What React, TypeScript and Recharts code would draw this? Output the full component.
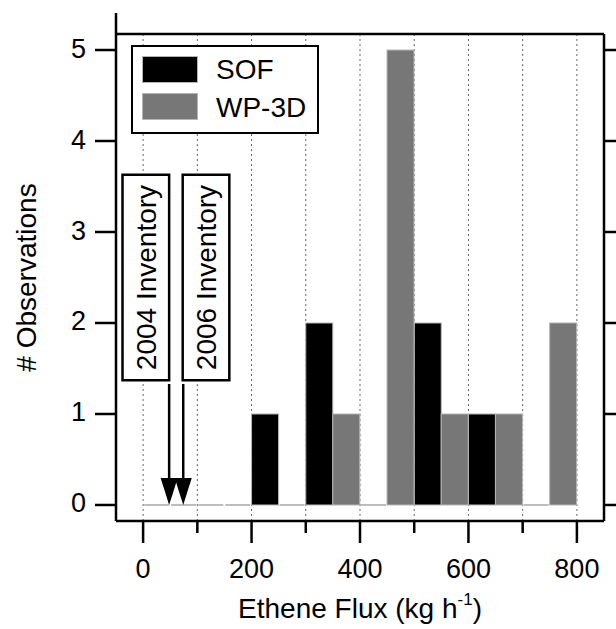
import React from 'react';
import {
  ComposedChart,
  Bar,
  XAxis,
  YAxis,
  CartesianGrid,
  ReferenceArea,
  ReferenceLine,
  ReferenceDot,
  Legend,
} from 'recharts';

// ---- data ----
const binStarts = [0, 100, 200, 300, 400, 500, 600, 700];
const sofCounts = [0, 0, 1, 2, 0, 2, 1, 0];
const wpCounts = [0, 0, 0, 1, 5, 1, 1, 2];
const seriesNames = ['SOF', 'WP-3D'];
const xTicks = [0, 100, 200, 300, 400, 500, 600, 700, 800];
const xLabelTicks = [0, 200, 400, 600, 800];
const yTicks = [0, 1, 2, 3, 4, 5];
const inventoryLabels = ['2004 Inventory', '2006 Inventory'];
const inventoryFlux = [48, 74];

const data = binStarts.map((s, i) => ({ bin: s + 50, sof: sofCounts[i], wp: wpCounts[i] }));

// ---- layout / style ----
const FONT = '"Liberation Sans", Arial, Helvetica, sans-serif';
const FS = 28;
const TFS = 27;
const INV_BOXES = [
  { x1: -38, x2: 48 },
  { x1: 73, x2: 159 },
];
const INV_Y = [1.37, 3.63];
const ARROW_TOP = 1.33;
const ARROW_SHAFT_END = 0.25;

const HistBar = (props: any) => {
  const { x, y, width, height, fill } = props;
  if (!height || Math.abs(height) < 0.5) {
    return <line x1={x + 1} x2={x + width - 1} y1={y} y2={y} stroke="#a8a8a8" strokeWidth={1.5} />;
  }
  return <rect x={x} y={y} width={width} height={height} fill={fill} stroke="#b5b5b5" strokeWidth={1} />;
};

const BottomTick = (props: any) => {
  const { x, y, payload } = props;
  const major = xLabelTicks.includes(payload.value);
  return (
    <g>
      <line x1={x} x2={x} y1={y} y2={y + (major ? 22 : 12)} stroke="#000" strokeWidth={2.5} />
      {major && (
        <text x={x} y={y + 57} textAnchor="middle" fontFamily={FONT} fontSize={TFS} fill="#000">
          {payload.value}
        </text>
      )}
    </g>
  );
};

const TopTick = (props: any) => {
  const { x, y, payload } = props;
  const major = xLabelTicks.includes(payload.value);
  return <line x1={x} x2={x} y1={y} y2={y - (major ? 21 : 12)} stroke="#000" strokeWidth={2.5} />;
};

const LeftTick = (props: any) => {
  const { x, y, payload } = props;
  return (
    <g>
      <line x1={x} x2={x - 21} y1={y} y2={y} stroke="#000" strokeWidth={2.5} />
      <text x={x - 30} y={y + 7.5} textAnchor="end" fontFamily={FONT} fontSize={TFS} fill="#000">
        {payload.value}
      </text>
    </g>
  );
};

const RightTick = (props: any) => {
  const { x, y } = props;
  return <line x1={x} x2={x + 21} y1={y} y2={y} stroke="#000" strokeWidth={2.5} />;
};

const XTitle = (props: any) => {
  const vb = props.viewBox;
  const cx = vb.x + vb.width / 2;
  const by = vb.y + 97;
  return (
    <text x={cx} y={by} textAnchor="middle" fontFamily={FONT} fontSize={FS} fill="#000">
      <tspan>Ethene Flux (kg h</tspan>
      <tspan dy={-13} fontSize={17}>-1</tspan>
      <tspan dy={13}>)</tspan>
    </text>
  );
};

const YTitle = (props: any) => {
  const vb = props.viewBox;
  const bx = vb.x + vb.width - 80;
  const cy = vb.y + vb.height / 2;
  return (
    <text
      x={bx}
      y={cy}
      transform={`rotate(-90 ${bx} ${cy})`}
      textAnchor="middle"
      fontFamily={FONT}
      fontSize={FS}
      fill="#000"
    >
      # Observations
    </text>
  );
};

const LegendBox = (props: any) => {
  const payload = props.payload || [];
  return (
    <div
      style={{
        position: 'relative',
        width: 188,
        height: 89,
        boxSizing: 'border-box',
        border: '2.5px solid #000',
        background: '#fff',
        fontFamily: FONT,
        fontSize: FS,
        lineHeight: '26px',
      }}
    >
      {payload.map((p: any, i: number) => (
        <React.Fragment key={p.value}>
          <div
            style={{
              position: 'absolute',
              left: 9,
              top: i === 0 ? 9 : 46,
              width: 56,
              height: 27,
              background: p.color,
              boxSizing: 'border-box',
              border: '1px solid #b5b5b5',
            }}
          />
          <span style={{ position: 'absolute', left: 83, top: i === 0 ? 10 : 48, color: '#000', whiteSpace: 'nowrap' }}>
            {p.value}
          </span>
        </React.Fragment>
      ))}
    </div>
  );
};

const ArrowHead = (props: any) => {
  const { cx, cy } = props;
  return <polygon points={`${cx - 8.5},${cy - 27} ${cx + 8.5},${cy - 27} ${cx},${cy}`} fill="#000" />;
};

export default function App() {
  return (
    <div style={{ position: 'absolute', left: 0, top: 0, background: '#fff' }}>
      <ComposedChart
        width={616}
        height={629}
        data={data}
        margin={{ top: 14, right: 0, bottom: 48, left: 56 }}
        barGap={0}
      >
        <CartesianGrid horizontal={false} stroke="#666" strokeDasharray="2 3" strokeWidth={1} />
        <XAxis
          dataKey="bin"
          type="number"
          domain={[-50, 850]}
          allowDataOverflow
          ticks={xTicks}
          interval={0}
          height={60}
          tickSize={0}
          tickMargin={0}
          tickLine={false}
          axisLine={{ stroke: '#000', strokeWidth: 2.5 }}
          tick={<BottomTick />}
          label={{ content: <XTitle /> }}
        />
        <XAxis
          xAxisId="top"
          orientation="top"
          type="number"
          domain={[-50, 850]}
          allowDataOverflow
          ticks={xTicks}
          interval={0}
          height={20}
          tickSize={0}
          tickMargin={0}
          tickLine={false}
          axisLine={{ stroke: '#000', strokeWidth: 2.5 }}
          tick={<TopTick />}
        />
        <YAxis
          type="number"
          domain={[-0.176, 5.176]}
          allowDataOverflow
          ticks={yTicks}
          interval={0}
          width={60}
          tickSize={0}
          tickMargin={0}
          tickLine={false}
          axisLine={{ stroke: '#000', strokeWidth: 2.5 }}
          tick={<LeftTick />}
          label={{ content: <YTitle /> }}
        />
        <YAxis
          yAxisId="right"
          orientation="right"
          type="number"
          domain={[-0.176, 5.176]}
          allowDataOverflow
          ticks={yTicks}
          interval={0}
          width={12}
          tickSize={0}
          tickMargin={0}
          tickLine={false}
          axisLine={{ stroke: '#000', strokeWidth: 2.5 }}
          tick={<RightTick />}
        />
        <Legend
          layout="vertical"
          align="center"
          verticalAlign="middle"
          content={<LegendBox />}
          wrapperStyle={{ left: 131, top: 45, width: 188, height: 89 }}
        />
        <Bar
          dataKey="sof"
          name={seriesNames[0]}
          fill="#000000"
          barSize={27}
          shape={<HistBar />}
          isAnimationActive={false}
        />
        <Bar
          dataKey="wp"
          name={seriesNames[1]}
          fill="#777777"
          barSize={27}
          shape={<HistBar />}
          isAnimationActive={false}
        />
        {INV_BOXES.map((b, i) => (
          <ReferenceArea
            key={inventoryLabels[i]}
            x1={b.x1}
            x2={b.x2}
            y1={INV_Y[0]}
            y2={INV_Y[1]}
            fill="#fff"
            fillOpacity={1}
            stroke="#000"
            strokeWidth={2.5}
            ifOverflow="visible"
            label={{
              value: inventoryLabels[i],
              position: 'center',
              angle: -90,
              fontSize: FS,
              fontFamily: FONT,
              fill: '#000',
            }}
          />
        ))}
        {inventoryFlux.map((f, i) => (
          <ReferenceLine
            key={'shaft' + i}
            segment={[
              { x: f, y: ARROW_TOP },
              { x: f, y: ARROW_SHAFT_END },
            ]}
            stroke="#000"
            strokeWidth={2.5}
            ifOverflow="visible"
          />
        ))}
        {inventoryFlux.map((f, i) => (
          <ReferenceDot key={'head' + i} x={f} y={0} r={1} shape={<ArrowHead />} ifOverflow="visible" />
        ))}
      </ComposedChart>
    </div>
  );
}
